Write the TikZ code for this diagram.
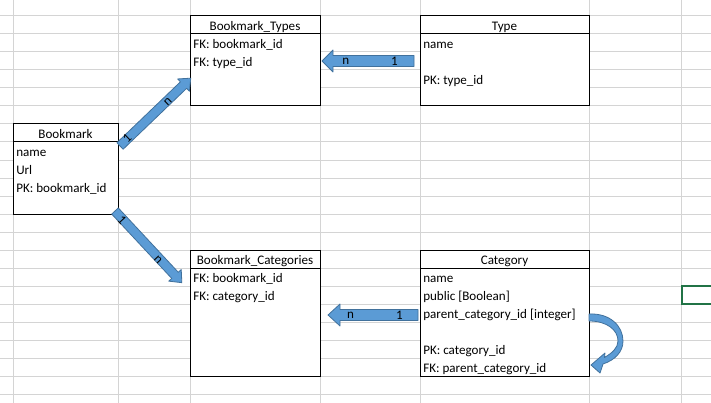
\documentclass[tikz,border=0pt]{standalone}
\usepackage{fontspec}
\setmainfont{Carlito}
\definecolor{gridc}{HTML}{D4D4D4}
\definecolor{arrfill}{HTML}{5B9BD5}
\definecolor{arrline}{HTML}{41719C}
\definecolor{selgreen}{HTML}{217346}
\begin{document}
\begin{tikzpicture}[x=0.75pt,y=-0.75pt,
  tbl/.style={draw=black,fill=white,line width=0.75pt,inner sep=0pt,outer sep=0pt,anchor=north west},
  sep/.style={draw=black,line width=0.75pt},
  lbl/.style={inner sep=0pt,anchor=base west,font=\fontsize{9.8}{12}\selectfont},
  ttl/.style={inner sep=0pt,anchor=base,font=\fontsize{9.8}{12}\selectfont},
  alb/.style={inner sep=0pt,font=\fontsize{9.8}{12}\selectfont},
  arr/.style={fill=arrfill,draw=arrline,line width=0.6pt,line join=round},
  gridln/.style={draw=gridc,line width=0.75pt}]
\useasboundingbox (0,0) rectangle (711,403);
\fill[white] (0,0) rectangle (711,403);
% grid
\foreach \gx in {13,118,190,320,420,589,681} {\draw[gridln] (\gx,0) -- (\gx,403);}
\foreach \k in {0,...,21} {\draw[gridln] (0,16+18*\k) -- (711,16+18*\k);}
% selected cell
\draw[selgreen,line width=1.5pt] (713,286) -- (682,286) -- (682,304) -- (713,304);
% Bookmark
\node[tbl,minimum width=105*0.75pt,minimum height=90*0.75pt] (bm) at (13,124) {};
\draw[sep] (13,142) -- (118,142);
\node[ttl] (bmt) at (65.5,138.2) {Bookmark};
\node[lbl] (bm1) at (16,156.2) {name};
\node[lbl] (bm2) at (16,174.2) {Url};
\node[lbl] (bm3) at (16,192.2) {PK: bookmark\_id};
% Bookmark_Types
\node[tbl,minimum width=130*0.75pt,minimum height=90*0.75pt] (bt) at (190,16) {};
\draw[sep] (190,34) -- (320,34);
\node[ttl] (btt) at (255,30.2) {Bookmark\_Types};
\node[lbl] (bt1) at (193,48.2) {FK: bookmark\_id};
\node[lbl] (bt2) at (193,66.2) {FK: type\_id};
% Type
\node[tbl,minimum width=169*0.75pt,minimum height=90*0.75pt] (ty) at (420,16) {};
\draw[sep] (420,34) -- (589,34);
\node[ttl] (tyt) at (504.5,30.2) {Type};
\node[lbl] (ty1) at (423,48.2) {name};
\node[lbl] (ty2) at (423,84.2) {PK: type\_id};
% Bookmark_Categories
\node[tbl,minimum width=130*0.75pt,minimum height=126*0.75pt] (bc) at (190,250) {};
\draw[sep] (190,268) -- (320,268);
\node[ttl] (bct) at (255,264.2) {Bookmark\_Categories};
\node[lbl] (bc1) at (193,282.2) {FK: bookmark\_id};
\node[lbl] (bc2) at (193,300.2) {FK: category\_id};
% Category
\node[tbl,minimum width=169*0.75pt,minimum height=126*0.75pt] (ca) at (420,250) {};
\draw[sep] (420,268) -- (589,268);
\node[ttl] (cat) at (504.5,264.2) {Category};
\node[lbl] (ca1) at (423,282.2) {name};
\node[lbl] (ca2) at (423,300.2) {public [Boolean]};
\node[lbl] (ca3) at (423,318.2) {parent\_category\_id [integer]};
\node[lbl] (ca4) at (423,354.2) {PK: category\_id};
\node[lbl] (ca5) at (423,372.2) {FK: parent\_category\_id};
% Type -> Bookmark_Types
\path[arr] (414,55.5) -- (333,55.5) -- (333,50) -- (322,61) -- (333,72) -- (333,66.5) -- (414,66.5) -- cycle;
\node[alb] (a1n) at (345.8,61) {n};
\node[alb] (a1o) at (394.5,61) {1};
% Category -> Bookmark_Categories
\path[arr] (418,309.5) -- (340,309.5) -- (340,304) -- (328,315) -- (340,326) -- (340,320.5) -- (418,320.5) -- cycle;
\node[alb] (a2n) at (350.5,315) {n};
\node[alb] (a2o) at (399.5,315) {1};
% Bookmark -> Bookmark_Types
\begin{scope}[shift={(120,146)},rotate=43.8]
\path[arr] (0,-4.5) -- (88,-4.5) -- (88,-8.5) -- (98,0) -- (88,8.5) -- (88,4.5) -- (0,4.5) -- cycle;
\end{scope}
\node[alb,rotate=43.8] (a3o) at (127,138.5) {1};
\node[alb,rotate=43.8] (a3n) at (168,102) {n};
% Bookmark -> Bookmark_Categories
\begin{scope}[shift={(115,211)},rotate=-47]
\path[arr] (0,-4.5) -- (88,-4.5) -- (88,-8.5) -- (98,0) -- (88,8.5) -- (88,4.5) -- (0,4.5) -- cycle;
\end{scope}
\node[alb,rotate=-47] (a4o) at (122,220.5) {1};
\node[alb,rotate=-47] (a4n) at (158,259.5) {n};
% self reference curved arrow
\path[arr] (589,314) .. controls (610,313) and (623,326) .. (623,341)
  .. controls (623,352) and (615,360) .. (603,364)
  -- (600,373) -- (591,365) -- (605,353) -- (604.5,357.5)
  .. controls (612,353) and (618,348) .. (618,341)
  .. controls (618,330) and (607,321) .. (589,321) -- cycle;
\end{tikzpicture}
\end{document}
